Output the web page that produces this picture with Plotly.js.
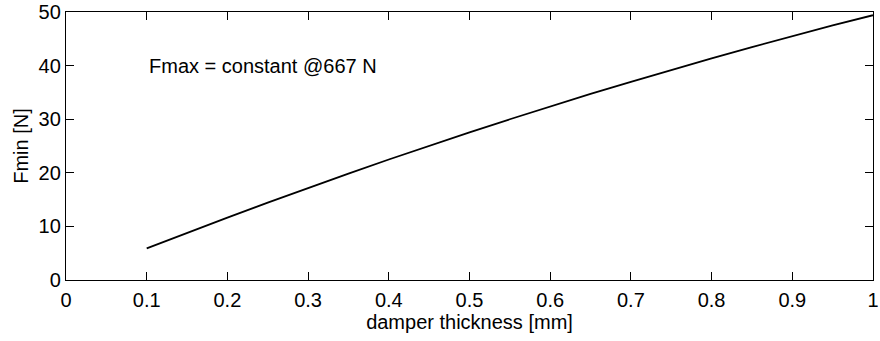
<!DOCTYPE html>
<html>
<head>
<meta charset="utf-8">
<script src="https://cdn.plot.ly/plotly-3.0.1.min.js"></script>
<style>html,body{margin:0;padding:0;background:#fff;}#chart{width:880px;height:341px;}</style>
</head>
<body>
<div id="chart"></div>
<script>
const thickness = [0.1, 0.15, 0.2, 0.25, 0.3, 0.35, 0.4, 0.45, 0.5, 0.55, 0.6, 0.65, 0.7, 0.75, 0.8, 0.85, 0.9, 0.95, 1.0];
const fmin = [5.9, 8.81, 11.65, 14.45, 17.18, 19.86, 22.48, 25.04, 27.54, 29.99, 32.38, 34.71, 36.98, 39.2, 41.36, 43.46, 45.5, 47.49, 49.4];
const xTicks = [0, 0.1, 0.2, 0.3, 0.4, 0.5, 0.6, 0.7, 0.8, 0.9, 1];
const xTickText = ['0', '0.1', '0.2', '0.3', '0.4', '0.5', '0.6', '0.7', '0.8', '0.9', '1'];
const yTicks = [0, 10, 20, 30, 40, 50];

const font = {family: 'Liberation Sans, Arial, sans-serif', size: 20, color: '#000'};

const trace = {
  x: thickness, y: fmin, type: 'scatter', mode: 'lines',
  line: {color: '#000', width: 1.8}, hoverinfo: 'skip', showlegend: false
};

const axisCommon = {
  showgrid: false, zeroline: false, showline: true, linecolor: '#000', linewidth: 1.2,
  mirror: 'ticks', ticks: 'inside', ticklen: 8, tickwidth: 1, tickcolor: '#000',
  tickfont: font, ticklabeloverflow: 'allow'
};

const layout = {
  width: 880, height: 341,
  margin: {l: 66, r: 7, t: 12, b: 61},
  paper_bgcolor: '#fff', plot_bgcolor: '#fff',
  font: font,
  xaxis: Object.assign({}, axisCommon, {
    range: [0, 1], tickmode: 'array', tickvals: xTicks, ticktext: xTickText,
    ticklabelstandoff: 2,
    title: {text: 'damper thickness [mm]', font: font, standoff: 2}
  }),
  yaxis: Object.assign({}, axisCommon, {
    range: [0, 50], tickmode: 'array', tickvals: yTicks,
    title: {text: 'Fmin [N]', font: font, standoff: 4}
  }),
  annotations: [{
    x: 0.1, y: 40, xref: 'x', yref: 'y', xanchor: 'left', yanchor: 'middle',
    text: 'Fmax = constant @667 N', showarrow: false, font: font
  }]
};

Plotly.newPlot('chart', [trace], layout, {staticPlot: true, displayModeBar: false});
</script>
</body>
</html>
